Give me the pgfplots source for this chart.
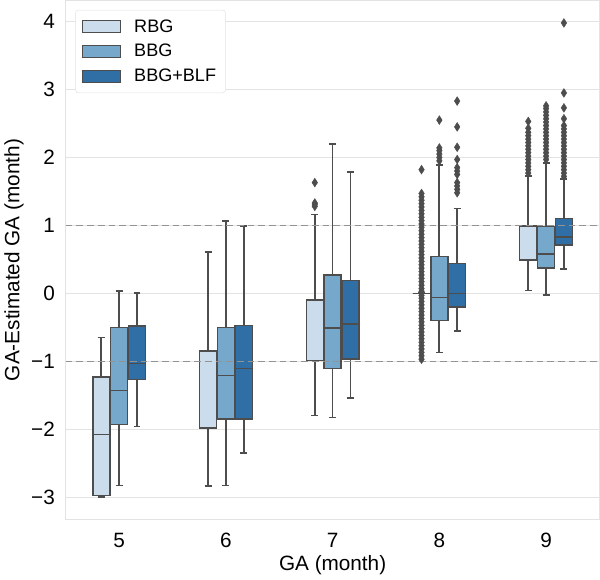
\documentclass[border=0pt]{standalone}
\usepackage{fontspec}
\setmainfont{Liberation Sans}
\usepackage{pgfplots}
\pgfplotsset{compat=1.18}
\usepgfplotslibrary{statistics}

\definecolor{cR}{HTML}{CBDCEC}
\definecolor{cB}{HTML}{75A8CB}
\definecolor{cF}{HTML}{2F6FA5}
\definecolor{edgec}{HTML}{4D4D4D}
\definecolor{gridc}{HTML}{E3E3E3}

\pgfplotsset{
  bx/.style={
    forget plot, solid, draw=edgec, line width=1.3pt,
    boxplot/every box/.append style={fill=#1, draw=edgec, line width=1.1pt},
    mark=diamond*, mark size=3.3pt,
    mark options={solid, fill=edgec, draw=edgec, xscale=0.85, line width=0.3pt},
  },
}

\begin{document}
\begin{tikzpicture}
\begin{axis}[
    scale only axis,
    width=399pt, height=388pt,
    xmin=4.5, xmax=9.5,
    ymin=-3.33, ymax=4.31,
    boxplot/draw direction=y,
    boxplot/every whisker/.style={draw=edgec, line width=1.3pt},
    boxplot/every median/.style={draw=edgec, line width=1.1pt},
    xtick={5,6,7,8,9},
    ytick={-3,-2,-1,0,1,2,3,4},
    yticklabels={−3,−2,−1,0,1,2,3,4},
    /pgf/number format/assume math mode=true,
    major tick length=0pt,
    tick label style={font=\fontsize{15.5}{18}\selectfont, inner sep=0pt},
    yticklabel style={xshift=-8pt},
    xticklabel style={yshift=-10pt},
    label style={font=\fontsize{15.5}{18}\selectfont},
    xlabel={GA (month)},
    ylabel={GA-Estimated GA (month)},
    xlabel style={yshift=-2pt},
    ylabel style={yshift=2pt},
    axis line style={gridc, line width=0.8pt},
    ymajorgrids,
    grid style={gridc, line width=0.8pt},
    legend style={at={(0.018,0.982)}, anchor=north west, draw=gridc,
      rounded corners=2pt, font=\fontsize{13.5}{16}\selectfont,
      row sep=3.5pt, column sep=8pt, inner sep=5pt, cells={anchor=west}},
    legend image code/.code={\draw[#1, sharp corners, line width=0.8pt] (0pt,-4.5pt) rectangle (28pt,4.5pt);},
]
\addlegendimage{fill=cR, draw=edgec}\addlegendentry{RBG}
\addlegendimage{fill=cB, draw=edgec}\addlegendentry{BBG}
\addlegendimage{fill=cF, draw=edgec}\addlegendentry{BBG+BLF}

% GA = 5
\addplot[bx=cR, boxplot prepared={draw position=4.833, box extend=0.16, whisker extend=0.065,
  lower whisker=-3.0, lower quartile=-2.98, median=-2.08, upper quartile=-1.23, upper whisker=-0.65}]
  coordinates {};
\addplot[bx=cB, boxplot prepared={draw position=5, box extend=0.16, whisker extend=0.065,
  lower whisker=-2.83, lower quartile=-1.93, median=-1.43, upper quartile=-0.5, upper whisker=0.03}]
  coordinates {};
\addplot[bx=cF, boxplot prepared={draw position=5.167, box extend=0.16, whisker extend=0.065,
  lower whisker=-1.96, lower quartile=-1.27, median=-1.03, upper quartile=-0.48, upper whisker=0.0}]
  coordinates {};

% GA = 6
\addplot[bx=cR, boxplot prepared={draw position=5.833, box extend=0.16, whisker extend=0.065,
  lower whisker=-2.84, lower quartile=-1.98, median=-1.98, upper quartile=-0.85, upper whisker=0.61}]
  coordinates {};
\addplot[bx=cB, boxplot prepared={draw position=6, box extend=0.16, whisker extend=0.065,
  lower whisker=-2.83, lower quartile=-1.85, median=-1.21, upper quartile=-0.5, upper whisker=1.06}]
  coordinates {};
\addplot[bx=cF, boxplot prepared={draw position=6.167, box extend=0.16, whisker extend=0.065,
  lower whisker=-2.35, lower quartile=-1.85, median=-1.11, upper quartile=-0.47, upper whisker=0.99}]
  coordinates {};

% GA = 7
\addplot[bx=cR, boxplot prepared={draw position=6.833, box extend=0.16, whisker extend=0.065,
  lower whisker=-1.80, lower quartile=-0.99, median=-0.99, upper quartile=-0.1, upper whisker=1.16}]
  table[row sep=\\, y index=0] {y\\ 1.28\\ 1.31\\ 1.33\\ 1.63\\};
\addplot[bx=cB, boxplot prepared={draw position=7, box extend=0.16, whisker extend=0.065,
  lower whisker=-1.83, lower quartile=-1.11, median=-0.51, upper quartile=0.27, upper whisker=2.2}]
  coordinates {};
\addplot[bx=cF, boxplot prepared={draw position=7.167, box extend=0.16, whisker extend=0.065,
  lower whisker=-1.54, lower quartile=-0.97, median=-0.45, upper quartile=0.19, upper whisker=1.79}]
  coordinates {};

% GA = 8
\addplot[bx=cR, boxplot prepared={draw position=7.833, box extend=0.16, whisker extend=0.065,
  lower whisker=0, lower quartile=0, median=0, upper quartile=0, upper whisker=0}]
  table[row sep=\\, y index=0] {y\\ -0.97\\ -0.92\\ -0.87\\ -0.82\\ -0.77\\ -0.72\\ -0.67\\ -0.62\\
  -0.57\\ -0.52\\ -0.47\\ -0.42\\ -0.37\\ -0.32\\ -0.27\\ -0.22\\ -0.17\\ -0.12\\ -0.07\\ -0.03\\
  0.03\\ 0.07\\ 0.12\\ 0.17\\ 0.22\\ 0.27\\ 0.32\\ 0.37\\ 0.42\\ 0.47\\ 0.52\\ 0.57\\ 0.62\\ 0.67\\
  0.72\\ 0.77\\ 0.82\\ 0.87\\ 0.92\\ 0.97\\ 1.02\\ 1.07\\ 1.12\\ 1.17\\ 1.22\\ 1.27\\ 1.32\\ 1.37\\
  1.42\\ 1.47\\ 1.82\\};
\addplot[bx=cB, boxplot prepared={draw position=8, box extend=0.16, whisker extend=0.065,
  lower whisker=-0.87, lower quartile=-0.40, median=-0.06, upper quartile=0.54, upper whisker=1.89}]
  table[row sep=\\, y index=0] {y\\ 1.95\\ 2.0\\ 2.05\\ 2.10\\ 2.14\\ 2.55\\};
\addplot[bx=cF, boxplot prepared={draw position=8.167, box extend=0.16, whisker extend=0.065,
  lower whisker=-0.56, lower quartile=-0.2, median=0.0, upper quartile=0.44, upper whisker=1.25}]
  table[row sep=\\, y index=0] {y\\ 1.48\\ 1.53\\ 1.58\\ 1.63\\ 1.75\\ 1.80\\ 1.85\\ 1.97\\ 2.15\\ 2.45\\ 2.83\\};

% GA = 9
\addplot[bx=cR, boxplot prepared={draw position=8.833, box extend=0.16, whisker extend=0.065,
  lower whisker=0.04, lower quartile=0.49, median=0.99, upper quartile=0.99, upper whisker=1.73}]
  table[row sep=\\, y index=0] {y\\ 1.77\\ 1.82\\ 1.87\\ 1.92\\ 1.97\\ 2.02\\ 2.07\\ 2.12\\ 2.17\\
  2.22\\ 2.27\\ 2.32\\ 2.37\\ 2.43\\ 2.53\\};
\addplot[bx=cB, boxplot prepared={draw position=9, box extend=0.16, whisker extend=0.065,
  lower whisker=-0.02, lower quartile=0.37, median=0.58, upper quartile=0.98, upper whisker=1.92}]
  table[row sep=\\, y index=0] {y\\ 1.97\\ 2.02\\ 2.07\\ 2.12\\ 2.17\\ 2.22\\ 2.27\\ 2.32\\ 2.37\\
  2.42\\ 2.47\\ 2.52\\ 2.57\\ 2.62\\ 2.67\\ 2.72\\ 2.76\\};
\addplot[bx=cF, boxplot prepared={draw position=9.167, box extend=0.16, whisker extend=0.065,
  lower whisker=0.36, lower quartile=0.71, median=0.83, upper quartile=1.10, upper whisker=1.68}]
  table[row sep=\\, y index=0] {y\\ 1.72\\ 1.77\\ 1.82\\ 1.87\\ 1.92\\ 1.97\\ 2.02\\ 2.07\\ 2.12\\
  2.17\\ 2.22\\ 2.27\\ 2.32\\ 2.37\\ 2.42\\ 2.47\\ 2.57\\ 2.73\\ 2.95\\ 3.98\\};

% reference lines at +-1 month
\addplot[forget plot, gray!85, dashed, dash pattern=on 5pt off 3pt, line width=0.9pt]
  coordinates {(4.5,1) (9.5,1)};
\addplot[forget plot, gray!85, dashed, dash pattern=on 5pt off 3pt, line width=0.9pt]
  coordinates {(4.5,-1) (9.5,-1)};
\end{axis}
\end{tikzpicture}
\end{document}
